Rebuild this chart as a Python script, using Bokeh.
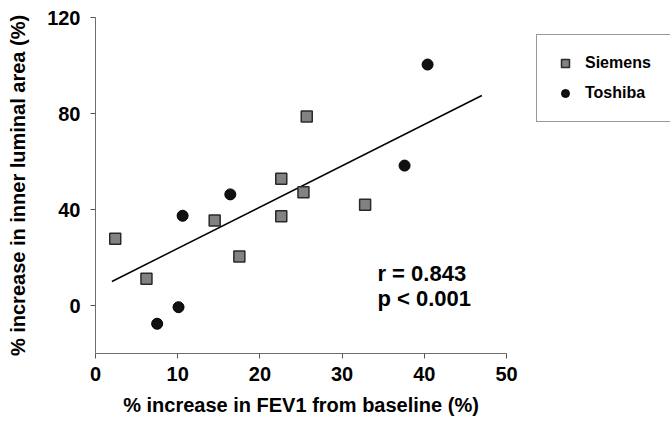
from bokeh.plotting import figure
from bokeh.models import Range1d, Label, Legend, LegendItem, FixedTicker
from bokeh.embed import file_html
from bokeh.resources import INLINE

# Data
siemens_x = [2.4, 6.2, 14.5, 17.5, 22.6, 22.6, 25.3, 25.7, 32.8]
siemens_y = [27.8, 11.1, 35.4, 20.4, 52.8, 37.2, 47.2, 78.8, 42.0]
toshiba_x = [7.5, 10.1, 10.6, 16.4, 37.6, 40.4]
toshiba_y = [-7.6, -0.7, 37.4, 46.3, 58.3, 100.4]
fit_x = [2.0, 47.0]
fit_y = [10.0, 87.5]
x_ticks = [0, 10, 20, 30, 40, 50]
y_ticks = [0, 40, 80, 120]
stats_lines = ["r = 0.843", "p < 0.001"]
series_names = ["Siemens", "Toshiba"]

FONT = "Liberation Sans"

p = figure(frame_width=411, frame_height=336, output_backend="svg", toolbar_location=None,
           x_range=Range1d(0, 50), y_range=Range1d(-20, 120),
           min_border_left=95, min_border_right=164, min_border_top=17, min_border_bottom=69)
p.outline_line_color = None
p.xgrid.visible = False
p.ygrid.visible = False
p.background_fill_color = "white"
p.border_fill_color = "white"

for ax in (p.xaxis[0], p.yaxis[0]):
    ax.axis_line_color = "#6e6e6e"
    ax.axis_line_width = 1
    ax.major_tick_line_color = "#555555"
    ax.major_tick_out = 5
    ax.major_tick_in = 0
    ax.minor_tick_line_color = None
    ax.major_label_text_font = FONT
    ax.major_label_text_font_style = "bold"
    ax.major_label_text_font_size = "20px"
    ax.major_label_text_color = "black"
    ax.axis_label_text_font = FONT
    ax.axis_label_text_font_style = "bold"
    ax.axis_label_text_font_size = "20px"
    ax.axis_label_text_color = "black"

p.xaxis.ticker = FixedTicker(ticks=x_ticks)
p.yaxis.ticker = FixedTicker(ticks=y_ticks)
p.xaxis.axis_label = "% increase in FEV1 from baseline (%)"
p.yaxis.axis_label = "% increase in inner luminal area (%)"
p.xaxis.major_label_standoff = 8
p.xaxis.axis_label_standoff = 10
p.yaxis.major_label_standoff = 10
p.yaxis.axis_label_standoff = 15

line = p.line(fit_x, fit_y, line_color="black", line_width=1.5)

sq = p.scatter(siemens_x, siemens_y, marker="square", size=11,
               fill_color="#828282", line_color="#2a2a2a", line_width=1.5)
ci = p.scatter(toshiba_x, toshiba_y, marker="circle", size=11,
               fill_color="#111111", line_color="black", line_width=1)

legend = Legend(items=[LegendItem(label=series_names[0], renderers=[sq]),
                       LegendItem(label=series_names[1], renderers=[ci])],
                location=(30, 231), padding=18, spacing=10, margin=0,
                glyph_width=20, glyph_height=20, label_height=20,
                label_standoff=10, label_width=72,
                label_text_font=FONT, label_text_font_style="bold",
                label_text_font_size="16px", label_text_color="black",
                border_line_color="#333333", border_line_width=1,
                background_fill_color="white", background_fill_alpha=1.0)
p.add_layout(legend, "right")

p.add_layout(Label(x=34.3, y=13.3, text=stats_lines[0], text_font=FONT,
                   text_font_style="bold", text_font_size="22px",
                   text_baseline="middle", text_align="left", text_color="black"))
p.add_layout(Label(x=34.3, y=3.0, text=stats_lines[1], text_font=FONT,
                   text_font_style="bold", text_font_size="22px",
                   text_baseline="middle", text_align="left", text_color="black"))

open("out.html", "w").write(file_html(p, INLINE))
